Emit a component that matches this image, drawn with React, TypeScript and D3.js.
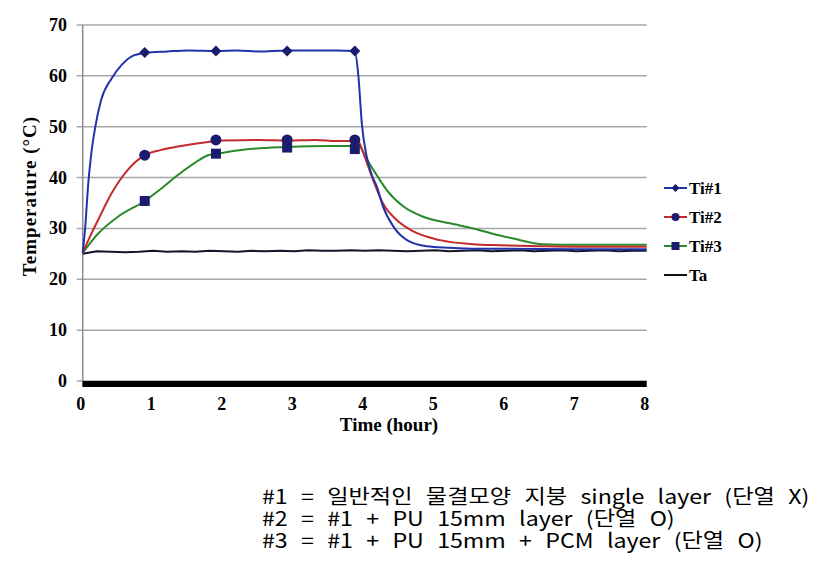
import React, { useEffect, useRef } from 'react';
import * as d3 from 'd3';

// time (hour) / temperature (°C)
const ti1Time = [0, 0.04, 0.075, 0.12, 0.17, 0.26, 0.41, 0.55, 0.69, 0.88, 1.2, 1.5, 1.9, 2.2, 2.5, 2.9, 3.3, 3.6, 3.86, 3.91, 3.96, 4.03, 4.1, 4.17, 4.26, 4.41, 4.6, 4.88, 5.2, 5.6, 6.0, 7.0, 8.0];
const ti1Temp = [25.2, 31, 38.2, 44.5, 49.3, 55.2, 59.5, 62.1, 63.8, 64.5, 64.8, 65.0, 64.9, 65.0, 64.8, 65.0, 65.0, 65.0, 64.9, 60, 50.5, 44, 40.5, 38.3, 34.3, 30.3, 27.7, 26.5, 26.2, 26.0, 26.0, 25.9, 25.9];

const ti2Time = [0, 0.1, 0.22, 0.41, 0.64, 0.88, 1.1, 1.35, 1.78, 2.0, 2.5, 2.9, 3.3, 3.6, 3.9, 3.95, 4.0, 4.12, 4.26, 4.45, 4.69, 5.07, 5.54, 5.92, 6.5, 7.0, 8.0];
const ti2Temp = [25.2, 28.3, 31.7, 36.9, 41.5, 44.4, 45.4, 46.1, 47.0, 47.3, 47.4, 47.3, 47.4, 47.2, 47.2, 46.0, 44.1, 39.5, 34.9, 31.7, 29.4, 27.7, 26.9, 26.7, 26.5, 26.4, 26.4];

const ti3Time = [0, 0.22, 0.5, 0.88, 1.12, 1.35, 1.59, 1.78, 2.0, 2.3, 2.9, 3.5, 3.9, 3.95, 4.0, 4.17, 4.31, 4.55, 4.83, 5.21, 5.54, 5.92, 6.11, 6.53, 7.0, 8.0];
const ti3Temp = [25.2, 29.0, 32.3, 35.4, 37.9, 40.5, 42.9, 44.4, 44.9, 45.5, 46.0, 46.2, 46.2, 45.8, 44.4, 40.5, 37.6, 34.3, 32.3, 31.0, 30.0, 28.6, 28.0, 26.9, 26.8, 26.8];

// ambient, every 0.2 h
const taTemp = [25.0, 25.5, 25.4, 25.3, 25.4, 25.6, 25.4, 25.5, 25.4, 25.6, 25.5, 25.4, 25.6, 25.5, 25.6, 25.5, 25.7, 25.6, 25.6, 25.7, 25.6, 25.7, 25.6, 25.5, 25.6, 25.7, 25.5, 25.6, 25.7, 25.5, 25.6, 25.7, 25.5, 25.6, 25.7, 25.5, 25.6, 25.7, 25.5, 25.6, 25.6];

const markerTime = [0.88, 1.89, 2.9, 3.86];
const ti1Marks = [64.6, 64.9, 64.9, 64.9];
const ti2Marks = [44.4, 47.4, 47.4, 47.4];
const ti3Marks = [35.4, 44.7, 45.9, 45.6];

const xTicks = [0, 1, 2, 3, 4, 5, 6, 7, 8];
const yTicks = [0, 10, 20, 30, 40, 50, 60, 70];

const legendNames = ['Ti#1', 'Ti#2', 'Ti#3', 'Ta'];
const noteLines = [
  '#1 = 일반적인 물결모양 지붕 single layer (단열 X)',
  '#2 = #1 + PU 15mm layer (단열 O)',
  '#3 = #1 + PU 15mm + PCM layer (단열 O)',
];

const App = () => {
  const svgRef = useRef(null);

  useEffect(() => {
    const svg = d3.select(svgRef.current);
    svg.selectAll('*').remove();

    const serif = '"Liberation Serif", "Times New Roman", serif';
    const markFill = '#1c1c6e';

    const x = d3.scaleLinear().domain([0, 8]).range([82.7, 646.7]);
    const y = d3.scaleLinear().domain([0, 70]).range([381, 25]);

    // grid
    svg.append('g')
      .selectAll('line')
      .data(yTicks)
      .enter()
      .append('line')
      .attr('x1', x(0) - 6)
      .attr('x2', x(8))
      .attr('y1', d => y(d))
      .attr('y2', d => y(d))
      .attr('stroke', '#a6a6a6')
      .attr('stroke-width', 1.5);

    svg.append('line')
      .attr('x1', x(0)).attr('x2', x(0))
      .attr('y1', y(70)).attr('y2', y(0) + 6)
      .attr('stroke', '#8c8c8c')
      .attr('stroke-width', 1.5);

    // thick black band along zero
    svg.append('rect')
      .attr('x', x(0))
      .attr('y', y(0))
      .attr('width', x(8) - x(0))
      .attr('height', 6)
      .attr('fill', '#000');

    svg.append('g')
      .selectAll('text')
      .data(yTicks)
      .enter()
      .append('text')
      .attr('x', 67)
      .attr('y', d => y(d) + 6)
      .attr('text-anchor', 'end')
      .style('font-family', serif)
      .style('font-weight', 'bold')
      .style('font-size', '18px')
      .text(d => d);

    svg.append('g')
      .selectAll('text')
      .data(xTicks)
      .enter()
      .append('text')
      .attr('x', d => x(d) - 2)
      .attr('y', 410)
      .attr('text-anchor', 'middle')
      .style('font-family', serif)
      .style('font-weight', 'bold')
      .style('font-size', '18px')
      .text(d => d);

    svg.append('text')
      .attr('x', 389)
      .attr('y', 431)
      .attr('text-anchor', 'middle')
      .style('font-family', serif)
      .style('font-weight', 'bold')
      .style('font-size', '19px')
      .text('Time (hour)');

    svg.append('text')
      .attr('transform', 'translate(36,196) rotate(-90)')
      .attr('text-anchor', 'middle')
      .style('font-family', serif)
      .style('font-weight', 'bold')
      .style('font-size', '19px')
      .style('letter-spacing', '1px')
      .text('Temperature (°C)');

    const line = d3.line().x(d => x(d[0])).y(d => y(d[1])).curve(d3.curveMonotoneX);
    const zip = (t, v) => t.map((tt, i) => [tt, v[i]]);

    const taTime = taTemp.map((_, i) => i * 0.2);
    svg.append('path')
      .attr('d', d3.line().x(d => x(d[0])).y(d => y(d[1]))(zip(taTime, taTemp)))
      .attr('fill', 'none')
      .attr('stroke', '#15152a')
      .attr('stroke-width', 2);

    const series = [
      { t: ti3Time, v: ti3Temp, color: '#2a8a2a' },
      { t: ti2Time, v: ti2Temp, color: '#c42a2a' },
      { t: ti1Time, v: ti1Temp, color: '#2233aa' },
    ];
    series.forEach(s => {
      svg.append('path')
        .attr('d', line(zip(s.t, s.v)))
        .attr('fill', 'none')
        .attr('stroke', s.color)
        .attr('stroke-width', 2);
    });

    const drawMark = (g, kind, cx, cy, size) => {
      if (kind === 'diamond') {
        g.append('path')
          .attr('d', `M${cx},${cy - size}L${cx + size},${cy}L${cx},${cy + size}L${cx - size},${cy}Z`)
          .attr('fill', markFill);
      } else if (kind === 'circle') {
        g.append('circle').attr('cx', cx).attr('cy', cy).attr('r', size).attr('fill', markFill);
      } else if (kind === 'square') {
        g.append('rect')
          .attr('x', cx - size).attr('y', cy - size)
          .attr('width', size * 2).attr('height', size * 2)
          .attr('fill', markFill);
      }
    };

    const marks = svg.append('g');
    markerTime.forEach((t, i) => {
      drawMark(marks, 'square', x(t), y(ti3Marks[i]), 5);
      drawMark(marks, 'circle', x(t), y(ti2Marks[i]), 5.5);
      drawMark(marks, 'diamond', x(t), y(ti1Marks[i]), 5.5);
    });

    // legend
    const legColors = ['#2233aa', '#c42a2a', '#2a8a2a', '#111'];
    const legKinds = ['diamond', 'circle', 'square', null];
    const leg = svg.append('g');
    legendNames.forEach((name, i) => {
      const ly = 188 + i * 29;
      leg.append('line')
        .attr('x1', 664).attr('x2', 687)
        .attr('y1', ly).attr('y2', ly)
        .attr('stroke', legColors[i])
        .attr('stroke-width', 2);
      if (legKinds[i]) drawMark(leg, legKinds[i], 675.5, ly, 4);
      leg.append('text')
        .attr('x', 689)
        .attr('y', ly + 6)
        .style('font-family', serif)
        .style('font-weight', 'bold')
        .style('font-size', '17px')
        .text(name);
    });

    svg.append('g')
      .selectAll('text')
      .data(noteLines)
      .enter()
      .append('text')
      .attr('transform', (d, i) => `translate(262,${504 + i * 22}) scale(1.16,1)`)
      .style('font-family', '"Noto Sans CJK KR", "Noto Sans", sans-serif')
      .style('font-size', '20px')
      .style('word-spacing', '7px')
      .attr('fill', '#000')
      .text(d => d);
  }, []);

  return (
    <div style={{ position: 'absolute', left: 0, top: 0, width: 823, height: 566, background: '#fff' }}>
      <svg ref={svgRef} width={823} height={566}></svg>
    </div>
  );
};

export default App;
